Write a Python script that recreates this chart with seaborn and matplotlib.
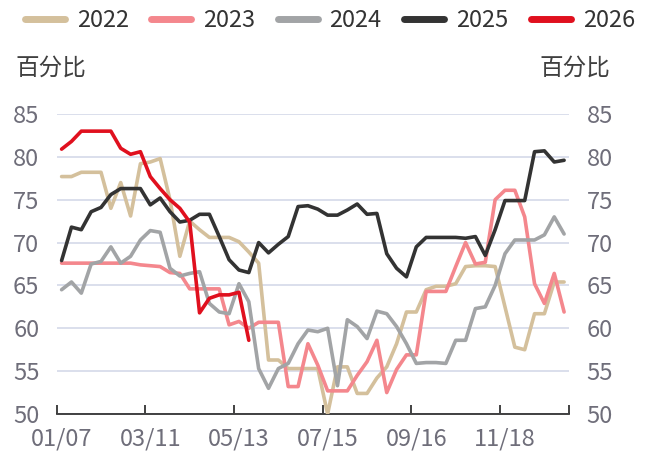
import numpy as np
import pandas as pd
import matplotlib
matplotlib.use("Agg")
import matplotlib.pyplot as plt
import seaborn as sns

# weekly values, week 0 = 01/07
y2022 = [77.7, 77.7, 78.2, 78.2, 78.2, 74.0, 77.0, 73.1, 79.2, 79.4, 79.8, 75.0, 68.4,
         72.5, 71.5, 70.6, 70.6, 70.6, 70.1, 68.9, 67.6, 56.3, 56.3, 55.3, 55.3, 55.3,
         55.3, 50.0, 55.5, 55.5, 52.4, 52.4, 54.2, 55.5, 58.2, 61.9, 61.9, 64.5, 64.9,
         64.9, 65.2, 67.2, 67.3, 67.3, 67.2, 62.5, 57.8, 57.5, 61.7, 61.7, 65.4, 65.4]
y2023 = [67.6, 67.6, 67.6, 67.6, 67.6, 67.6, 67.6, 67.6, 67.4, 67.3, 67.2, 66.5, 66.4,
         64.6, 64.6, 64.6, 64.6, 60.4, 60.8, 60.0, 60.7, 60.7, 60.7, 53.2, 53.2, 58.2,
         55.7, 52.7, 52.7, 52.7, 54.5, 56.1, 58.6, 52.5, 55.2, 56.9, 56.9, 64.3, 64.3,
         64.3, 67.2, 70.0, 67.5, 67.7, 75.0, 76.1, 76.1, 73.0, 65.2, 62.9, 66.4, 61.9]
y2024 = [64.5, 65.4, 64.1, 67.5, 67.8, 69.5, 67.6, 68.4, 70.3, 71.4, 71.2, 67.0, 66.1,
         66.4, 66.6, 62.9, 61.9, 61.7, 65.2, 63.1, 55.3, 53.0, 55.3, 55.9, 58.2, 59.8,
         59.6, 60.0, 53.3, 61.0, 60.2, 58.8, 62.0, 61.7, 60.2, 58.2, 55.9, 56.0, 56.0,
         55.9, 58.6, 58.6, 62.3, 62.5, 65.0, 68.7, 70.3, 70.3, 70.3, 70.9, 73.0, 71.0]
y2025 = [67.9, 71.8, 71.5, 73.6, 74.1, 75.6, 76.3, 76.3, 76.3, 74.4, 75.2, 73.6, 72.4,
         72.6, 73.3, 73.3, 70.7, 68.0, 66.8, 66.5, 70.0, 68.8, 69.8, 70.7, 74.2, 74.3,
         73.9, 73.2, 73.2, 73.8, 74.5, 73.3, 73.4, 68.7, 67.0, 66.0, 69.5, 70.6, 70.6,
         70.6, 70.6, 70.5, 70.7, 68.5, 71.5, 74.9, 74.9, 74.9, 80.6, 80.7, 79.4, 79.6]
y2026 = [80.9, 81.8, 83.0, 83.0, 83.0, 83.0, 81.0, 80.3, 80.6, 77.7, 76.3, 75.0, 74.0,
         72.4, 61.8, 63.5, 63.9, 63.9, 64.2, 58.6]

years = ["2022", "2023", "2024", "2025", "2026"]
colors = ["#D4C09C", "#F4878D", "#A2A4A6", "#333333", "#E0101E"]
tick_labels = ["01/07", "03/11", "05/13", "07/15", "09/16", "11/18"]
n_weeks = 52

series = [y2022, y2023, y2024, y2025, y2026]
frames = []
for yr, vals in zip(years, series):
    frames.append(pd.DataFrame({"week": np.arange(len(vals)), "value": vals, "year": yr}))
df = pd.concat(frames, ignore_index=True)

sns.set_theme(style="white")
plt.rcParams["font.family"] = ["Noto Sans CJK SC", "DejaVu Sans"]

fig = plt.figure(figsize=(6.53, 4.54), dpi=100)
ax = fig.add_axes([0.0868, 0.0881, 0.7846, 0.6608])

sns.lineplot(data=df, x="week", y="value", hue="year", palette=dict(zip(years, colors)),
             linewidth=2.6, ax=ax, legend=False, zorder=3)

ax.set_xlim(-0.5, n_weeks - 0.5)
ax.set_ylim(50, 85)
ax.set_yticks(np.arange(50, 86, 5))
ax.yaxis.grid(True, color="#D8DCEA", linewidth=1.3)
ax.set_axisbelow(True)

# tick marks on category boundaries, labels on categories
ax.set_xticks(list(np.arange(-0.5, n_weeks - 1, 9)) + [n_weeks - 0.5])
ax.set_xticklabels([])
ax.set_xticks(np.arange(0, n_weeks, 9), minor=True)
ax.set_xticklabels(tick_labels, minor=True)
ax.tick_params(axis="x", which="major", direction="in", length=6.5, width=1.3, color="#333333", bottom=True)
ax.tick_params(axis="x", which="minor", length=0, pad=10, labelsize=17, labelcolor="#6F6E7A")
ax.tick_params(axis="y", length=0, left=False, right=False, labelleft=True, labelright=True,
               labelsize=17, labelcolor="#6F6E7A", pad=12.5)

for s in ["top", "left", "right"]:
    ax.spines[s].set_visible(False)
ax.spines["bottom"].set_color("#333333")
ax.spines["bottom"].set_linewidth(1.3)
ax.set_xlabel("")
ax.set_ylabel("")

handles = [plt.Line2D([0], [0], color=c, linewidth=5) for c in colors]
fig.legend(handles, years, loc="center", bbox_to_anchor=(0.505, 0.954), ncol=5,
           frameon=False, fontsize=17, handlelength=1.7, columnspacing=0.95,
           handletextpad=0.5, labelcolor="#333333")

fig.text(15 / 653, 1 - 68 / 454, "百分比", fontsize=17, color="#404040", va="center", ha="left")
fig.text(539 / 653, 1 - 68 / 454, "百分比", fontsize=17, color="#404040", va="center", ha="left")

fig.savefig("out.png", dpi=100)
